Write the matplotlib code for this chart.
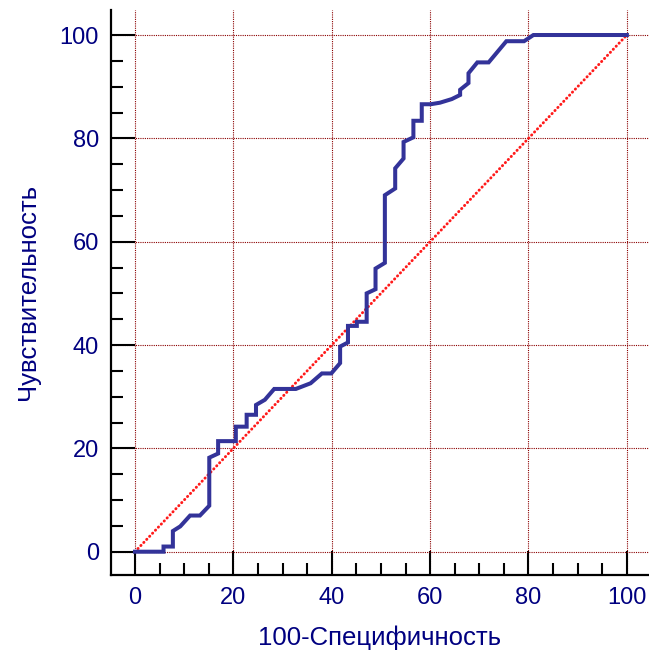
import matplotlib.pyplot as plt
from matplotlib.ticker import MultipleLocator

# ROC curve vertices (100-Specificity, Sensitivity)
fpr = [0, 5.8, 5.8, 7.7, 7.7, 9.2, 11.2, 13.2, 15.1, 15.1, 16.9, 16.9, 20.5, 20.5,
       22.7, 22.7, 24.6, 24.6, 26.4, 28.3, 32.7, 35.7, 38.0, 39.9, 41.7, 41.7,
       43.3, 43.3, 45.1, 45.1, 47.1, 47.1, 48.9, 48.9, 50.8, 50.8, 52.9, 52.9,
       54.6, 54.6, 56.6, 56.6, 58.3, 58.3, 60.1, 62.0, 64.4, 66.1, 66.1, 67.8,
       67.8, 69.6, 71.9, 75.5, 79.1, 81.0, 100]
tpr = [0, 0, 1.0, 1.0, 4.0, 4.9, 7.0, 7.0, 8.9, 18.2, 19.0, 21.4, 21.4, 24.2,
       24.2, 26.5, 26.5, 28.4, 29.4, 31.5, 31.5, 32.6, 34.5, 34.5, 36.5, 39.7,
       40.5, 43.7, 43.7, 44.5, 44.5, 50.0, 50.8, 54.8, 55.9, 69.0, 70.3, 74.2,
       76.1, 79.3, 80.2, 83.4, 83.4, 86.6, 86.6, 86.9, 87.6, 88.4, 89.4, 90.7,
       92.6, 94.7, 94.7, 98.8, 98.8, 100, 100]
diag = [0, 100]
ticks = [0, 20, 40, 60, 80, 100]

fam = ['Liberation Sans', 'DejaVu Sans']
navy = '#000080'

fig = plt.figure(figsize=(6.49, 6.51), dpi=100)
ax = fig.add_axes([110.7 / 649, 1 - 574.7 / 651, 538.3 / 649, 564.7 / 651])

ax.plot(diag, diag, color='#ff1a1a', lw=2.1, linestyle=(0, (0.1, 1.35)),
        dash_capstyle='round', zorder=3)
ax.plot(fpr, tpr, color='#333399', lw=2.9, solid_joinstyle='miter', zorder=4)

ax.set_xlim(-4.94, 104.5)
ax.set_ylim(-4.45, 104.84)
ax.set_xticks(ticks)
ax.set_yticks(ticks)
ax.xaxis.set_minor_locator(MultipleLocator(5))
ax.yaxis.set_minor_locator(MultipleLocator(5))

ax.grid(True, which='major', color='#8b0000', lw=0.8, linestyle=(0, (1, 1)), zorder=1)
ax.set_axisbelow(True)

for s in ['top', 'right']:
    ax.spines[s].set_visible(False)
for s in ['left', 'bottom']:
    ax.spines[s].set_linewidth(1.6)

ax.tick_params(which='major', direction='in', length=17.3, width=1.5, pad=8.5,
               labelsize=17, labelcolor=navy)
ax.tick_params(which='minor', direction='in', length=8.3, width=1.5)
for lab in ax.get_xticklabels() + ax.get_yticklabels():
    lab.set_family(fam)

ax.set_xlabel('100-Специфичность', fontsize=18.5, color=navy, family=fam, labelpad=12)
ax.set_ylabel('Чувствительность', fontsize=18.5, color=navy, family=fam, labelpad=14)

fig.savefig('out.png', dpi=100)
